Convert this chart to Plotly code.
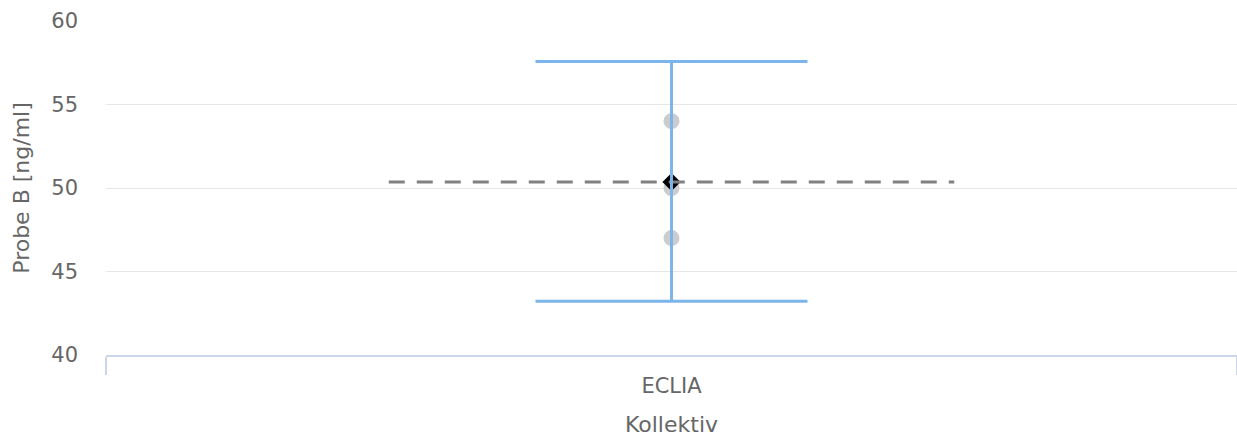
import plotly.graph_objects as go

categories = ["ECLIA"]
sample_values = [54, 50, 47]
mean_value = [50.36]
upper_limit = [57.57]
lower_limit = [43.22]
y_ticks = [40, 45, 50, 55, 60]

x_pos = list(range(len(categories)))

fig = go.Figure()

# individual measurements
fig.add_trace(go.Scatter(
    x=[x_pos[0]] * len(sample_values), y=sample_values, mode="markers",
    marker=dict(color="#cccccc", size=16), showlegend=False, hoverinfo="y"))

# mean diamond
fig.add_trace(go.Scatter(
    x=x_pos, y=mean_value, mode="markers",
    marker=dict(color="#000000", symbol="diamond", size=14), showlegend=False))

# dashed mean line
fig.add_trace(go.Scatter(
    x=[x_pos[0] - 0.25, x_pos[0] + 0.25], y=mean_value * 2, mode="lines",
    line=dict(color="#808080", width=3, dash="16px,12px"), showlegend=False))

# error bar (range)
fig.add_trace(go.Scatter(
    x=x_pos, y=mean_value, mode="markers",
    marker=dict(size=0.1, color="rgba(0,0,0,0)"),
    error_y=dict(type="data", symmetric=False,
                 array=[u - m for u, m in zip(upper_limit, mean_value)],
                 arrayminus=[m - l for m, l in zip(mean_value, lower_limit)],
                 color="#7cb5ec", thickness=3, width=136),
    showlegend=False))

fig.update_layout(
    width=1237, height=439,
    margin=dict(l=106, r=0, t=21, b=84),
    plot_bgcolor="#ffffff", paper_bgcolor="#ffffff",
    font=dict(family="DejaVu Sans", color="#666666", size=21),
)

fig.update_xaxes(
    range=[-0.5, 0.5], tickvals=x_pos, ticktext=categories,
    showgrid=False, zeroline=False,
    showline=True, linecolor="#ccd6eb", linewidth=2,
    ticks="", ticklabelstandoff=11,
    tickfont=dict(size=21, color="#666666"),
    minor=dict(tickvals=[-0.5, 0.5], ticks="outside", ticklen=18, tickcolor="#ccd6eb", tickwidth=2),
    title=dict(text="Kollektiv", font=dict(size=22, color="#666666"), standoff=19),
)

fig.update_yaxes(
    range=[40, 60], tickvals=y_ticks,
    showgrid=True, gridcolor="#e6e6e6", gridwidth=1,
    zeroline=False, showline=False, ticks="",
    ticklabelstandoff=27,
    tickfont=dict(size=21, color="#666666"),
    title=dict(text="Probe B [ng/ml]", font=dict(size=22, color="#666666"), standoff=15),
)

fig.write_html("out.html", config={"displayModeBar": False},
               post_script="document.body.style.margin='0';")
